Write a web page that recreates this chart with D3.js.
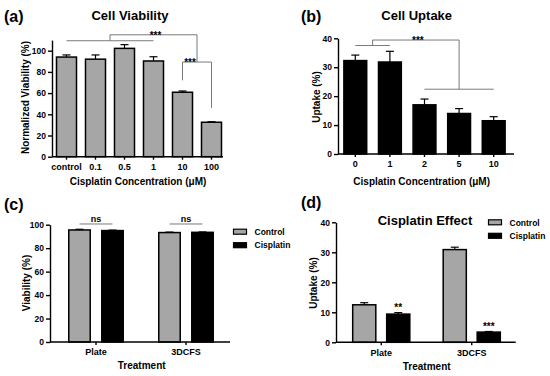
<!DOCTYPE html>
<html>
<head>
<meta charset="utf-8">
<script src="https://cdn.jsdelivr.net/npm/d3@7"></script>
<style>
	body { margin: 0; background: #fff; }
	svg { font-family: "Liberation Sans", Arial, sans-serif; font-weight: bold; }
	.axis path, .axis line { stroke: #000; stroke-width: 1.4; }
	.axis text { font-size: 9px; font-weight: bold; fill: #000; }
	.yaxis text { font-size: 8.5px; }
	.sig { stroke: #7a7a7a; stroke-width: 1; fill: none; }
</style>
</head>
<body>
<div id="chart"></div>
<script>

	// (a) Cell Viability
	var viab_conc = ['control', '0.1', '0.5', '1', '10', '100'],
		viab_mean = [94, 92, 102.2, 90.3, 60.8, 32.5],
		viab_err = [2, 4, 3.5, 4, 1.2, 0.5]

	// (b) Cell Uptake
	var upt_conc = ['0', '1', '2', '5', '10'],
		upt_mean = [32.3, 31.8, 17, 14, 11.5],
		upt_err = [1.9, 3.7, 2, 1.7, 1.4]

	// (c) / (d) Plate vs 3DCFS
	var treatments = ['Plate', '3DCFS'],
		series = ['Control', 'Cisplatin'],
		series_fill = ['#a6a6a6', '#000'],
		cviab_control = [95.5, 93.3],
		cviab_cisplatin = [95, 93.5],
		cviab_err_control = [0.6, 0.4],
		cviab_err_cisplatin = [0.4, 0.3],
		eff_control = [12.5, 30.9],
		eff_cisplatin = [9.4, 3.4],
		eff_err_control = [0.7, 0.8],
		eff_err_cisplatin = [0.5, 0.2],
		eff_stars = ['**', '***']

	var svg = d3.select('#chart')
		.append('svg')
		.attr('width', 550)
		.attr('height', 376)

	svg.append('rect')
		.attr('width', 550)
		.attr('height', 376)
		.attr('fill', '#fff')

	// helpers
	label = (txt, x, y, size, anchor) => {
		return svg.append('text')
			.attr('x', x)
			.attr('y', y)
			.attr('font-size', size)
			.attr('text-anchor', anchor || 'middle')
			.text(txt)
	}

	ylabel = (txt, x, y) => {
		svg.append('text')
			.attr('transform', 'translate(' + x + ',' + y + ') rotate(-90)')
			.attr('font-size', 10)
			.attr('text-anchor', 'middle')
			.text(txt)
	}

	draw_axes = (x, y, ticks, x0, x1, ybase) => {
		var ya = svg.append('g')
			.attr('class', 'axis yaxis')
			.attr('transform', 'translate(' + x0 + ',0)')
			.call(d3.axisLeft(y).tickValues(ticks).tickSize(4).tickSizeOuter(0).tickPadding(2))
		var xa = svg.append('g')
			.attr('class', 'axis')
			.attr('transform', 'translate(0,' + ybase + ')')
			.call(d3.axisBottom(x).tickSize(3).tickSizeOuter(0).tickPadding(4))
		xa.select('.domain').attr('d', 'M' + x0 + ',0H' + x1)
		return xa
	}

	bars = (data, fill) => {
		svg.append('g')
			.selectAll('rect')
			.data(data)
			.join('rect')
				.attr('x', d => d.x)
				.attr('width', d => d.w)
				.attr('y', d => d.y)
				.attr('height', d => d.y0 - d.y)
				.attr('fill', d => d.fill || fill)
				.attr('stroke', '#000')
				.attr('stroke-width', 1.5)
		var eb = svg.append('g')
			.attr('stroke', '#000')
			.attr('stroke-width', 1.2)
		data.forEach(d => {
			var cx = d.x + d.w / 2
			eb.append('line').attr('x1', cx).attr('x2', cx).attr('y1', d.y).attr('y2', d.ye)
			eb.append('line').attr('x1', cx - 4).attr('x2', cx + 4).attr('y1', d.ye).attr('y2', d.ye)
		})
	}

	path_line = pts => {
		svg.append('path')
			.attr('class', 'sig')
			.attr('d', d3.line()(pts))
	}

	stars = (txt, x, y) => label(txt, x, y, 10)

	// ---------- (a)
	var xa = d3.scaleBand()
		.domain(viab_conc)
		.range([52, 226])
		.paddingInner(0.31)
		.paddingOuter(0.155)
	var ya = d3.scaleLinear()
		.domain([0, 110])
		.range([156.7, 40.1])

	bars(viab_conc.map((c, i) => ({
		x: xa(c), w: xa.bandwidth(), y0: ya(0),
		y: ya(viab_mean[i]), ye: ya(viab_mean[i] + viab_err[i])
	})), '#a6a6a6')
	draw_axes(xa, ya, d3.range(0, 101, 20), 52, 223, ya(0))

	var ca = c => xa(c) + xa.bandwidth() / 2
	var a_m1 = (ca('control') + ca('1')) / 2,
		a_m2 = (ca('10') + ca('100')) / 2
	path_line([[ca('control'), ya(109.4)], [ca('1'), ya(109.4)]])
	path_line([[a_m1, ya(109.4)], [a_m1, ya(115)], [a_m2, ya(115)], [a_m2, ya(89.3)]])
	path_line([[ca('10'), ya(72)], [ca('10'), ya(89.3)], [ca('100'), ya(89.3)], [ca('100'), ya(46)]])
	stars('***', (a_m1 + a_m2) / 2 + 2, ya(115) + 4)
	stars('***', a_m2 - 7, ya(89.3) + 4)

	label('(a)', 4, 21.6, 16, 'start')
	label('Cell Viability', 130, 20, 13)
	ylabel('Normalized Viability (%)', 29, 97.5)
	label('Cisplatin Concentration (μM)', 138, 184.5, 10)

	// ---------- (b)
	var xb = d3.scaleBand()
		.domain(upt_conc)
		.range([338, 511])
		.paddingInner(0.34)
		.paddingOuter(0.17)
	var yb = d3.scaleLinear()
		.domain([0, 40])
		.range([154, 38.3])

	bars(upt_conc.map((c, i) => ({
		x: xb(c), w: xb.bandwidth(), y0: yb(0),
		y: yb(upt_mean[i]), ye: yb(upt_mean[i] + upt_err[i])
	})), '#000')
	draw_axes(xb, yb, d3.range(0, 41, 10), 338, 514, yb(0))

	var cb = c => xb(c) + xb.bandwidth() / 2
	var b_m1 = (cb('0') + cb('1')) / 2,
		b_m2 = cb('5')
	path_line([[cb('0'), yb(37.5)], [cb('1'), yb(37.5)]])
	path_line([[b_m1, yb(37.5)], [b_m1, yb(39.4)], [b_m2, yb(39.4)], [b_m2, yb(22.4)]])
	path_line([[cb('2'), yb(22.4)], [cb('10'), yb(22.4)]])
	stars('***', (b_m1 + b_m2) / 2 + 2, yb(39.4) + 4)

	label('(b)', 301, 21.6, 16, 'start')
	label('Cell Uptake', 416.7, 20, 13)
	ylabel('Uptake (%)', 320, 97)
	label('Cisplatin Concentration (μM)', 421.7, 184.5, 10)

	// ---------- grouped panels
	grouped = (x0s, xin, y, ctrl, cis, ectrl, ecis) => {
		var data = []
		treatments.forEach((t, i) => {
			[ctrl, cis].forEach((vals, j) => {
				var e = j == 0 ? ectrl : ecis
				data.push({
					x: x0s(t) + xin(series[j]), w: xin.bandwidth(), y0: y(0),
					y: y(vals[i]), ye: y(vals[i] + e[i]), fill: series_fill[j]
				})
			})
		})
		bars(data)
	}

	legend = (x, y) => {
		series.forEach((s, i) => {
			svg.append('rect')
				.attr('x', x)
				.attr('y', y + i * 13.5 - 2.5)
				.attr('width', 13)
				.attr('height', 5)
				.attr('fill', series_fill[i])
				.attr('stroke', '#000')
				.attr('stroke-width', 1.2)
			label(s, x + 21, y + i * 13.5 + 3.2, 8.5, 'start')
		})
	}

	// ---------- (c)
	var xc = d3.scaleBand()
		.domain(treatments)
		.range([51, 231])
	var xc_in = d3.scaleBand()
		.domain(series)
		.range([12, 78])
		.paddingInner(0.35)
		.paddingOuter(0.175)
	var yc = d3.scaleLinear()
		.domain([0, 100])
		.range([342, 224.7])

	grouped(xc, xc_in, yc, cviab_control, cviab_cisplatin, cviab_err_control, cviab_err_cisplatin)
	draw_axes(xc, yc, d3.range(0, 101, 20), 50, 230, yc(0))

	treatments.forEach(t => {
		var l = xc(t) + xc_in('Control') + xc_in.bandwidth() / 2,
			r = xc(t) + xc_in('Cisplatin') + xc_in.bandwidth() / 2
		path_line([[l, yc(100.6)], [r, yc(100.6)]])
		label('ns', (l + r) / 2, yc(100.6) - 2, 9)
	})

	legend(233.5, 231.7)
	label('(c)', 4, 209.5, 16, 'start')
	ylabel('Viability (%)', 29.5, 283)
	label('Treatment', 141.7, 368.5, 10)

	// ---------- (d)
	var xd = d3.scaleBand()
		.domain(treatments)
		.range([336, 517])
	var xd_in = d3.scaleBand()
		.domain(series)
		.range([11.25, 79.25])
		.paddingInner(0.32)
		.paddingOuter(0.16)
	var yd = d3.scaleLinear()
		.domain([0, 40])
		.range([342.3, 222.3])

	grouped(xd, xd_in, yd, eff_control, eff_cisplatin, eff_err_control, eff_err_cisplatin)
	draw_axes(xd, yd, d3.range(0, 41, 10), 336, 515.7, yd(0))

	treatments.forEach((t, i) => {
		var cx = xd(t) + xd_in('Cisplatin') + xd_in.bandwidth() / 2
		stars(eff_stars[i], cx, yd(eff_cisplatin[i] + eff_err_cisplatin[i]) - 2)
	})

	legend(488.5, 222.3)
	label('(d)', 301, 208, 16, 'start')
	label('Cisplatin Effect', 425, 225, 13)
	ylabel('Uptake (%)', 317, 283)
	label('Treatment', 426.7, 369.5, 10)

</script>
</body>
</html>
